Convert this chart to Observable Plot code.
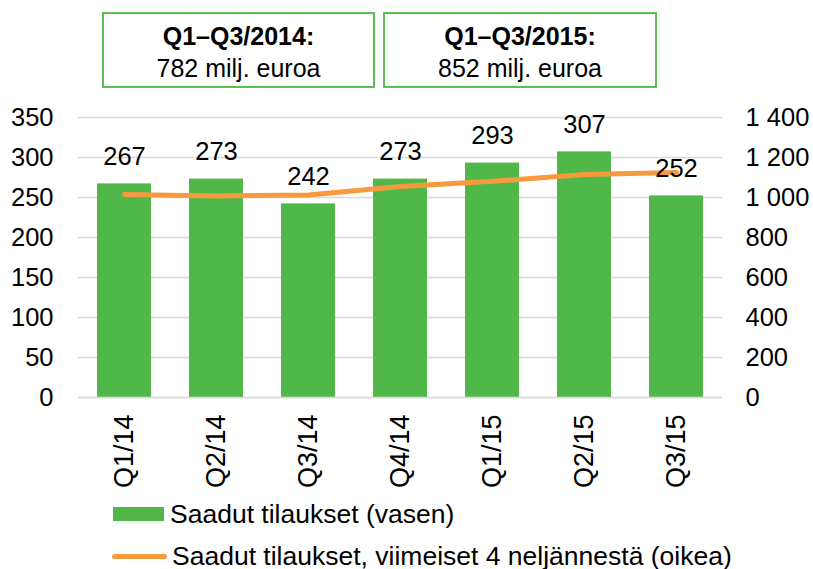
<!DOCTYPE html>
<html>
<head>
<meta charset="utf-8">
<script src="https://cdn.jsdelivr.net/npm/d3@7"></script>
<script src="https://cdn.jsdelivr.net/npm/@observablehq/plot@0.6"></script>
<style>
  body { margin: 0; background: #fff; }
  #wrap { position: relative; width: 813px; height: 569px; font-family: "Liberation Sans", Arial, sans-serif; color: #000; }
  .box { position: absolute; top: 12px; height: 72px; border: 2px solid #5bbf52; box-sizing: content-box; text-align: center; font-size: 25px; line-height: 32px; }
  .box .t { font-weight: bold; margin-top: 6px; }
  .leg { position: absolute; font-size: 26.5px; display: flex; align-items: center; white-space: nowrap; height: 30px; }
  .sw { width: 51px; height: 14px; background: #50b848; margin-right: 6px; }
  .ln { width: 55px; height: 5px; background: #f79a3e; border-radius: 3px; margin-right: 5px; }
</style>
</head>
<body>
<div id="wrap"></div>
<script>
const quarters = ["Q1/14", "Q2/14", "Q3/14", "Q4/14", "Q1/15", "Q2/15", "Q3/15"];
const orders = [267, 273, 242, 273, 293, 307, 252];
const rolling4 = [1015, 1008, 1012, 1055, 1081, 1115, 1125];
const leftTicks = [0, 50, 100, 150, 200, 250, 300, 350];
const rightTickLabels = ["0", "200", "400", "600", "800", "1 000", "1 200", "1 400"];
const boxTitles = ["Q1–Q3/2014:", "Q1–Q3/2015:"];
const boxValues = ["782 milj. euroa", "852 milj. euroa"];
const legendLabels = ["Saadut tilaukset (vasen)", "Saadut tilaukset, viimeiset 4 neljännestä (oikea)"];

const data = quarters.map((q, i) => ({q, v: orders[i], r: rolling4[i]}));
const green = "#50b848", orange = "#f79a3e";

const chart = Plot.plot({
  width: 813,
  height: 569,
  marginTop: 117,
  marginBottom: 172,
  marginLeft: 78,
  marginRight: 91,
  style: {fontFamily: "Liberation Sans, Arial, sans-serif", fontSize: "25px", color: "#000", background: "transparent"},
  x: {domain: quarters, paddingInner: 0.413, paddingOuter: 0.2065, label: null},
  y: {domain: [0, 350], label: null},
  marks: [
    Plot.gridY(leftTicks, {stroke: "#d9d9d9", strokeOpacity: 1, strokeWidth: 1.5}),
    Plot.barY(data, {x: "q", y: "v", fill: green}),
    Plot.ruleY([0], {stroke: "#d9d9d9", strokeWidth: 1.5}),
    Plot.line(data, {x: "q", y: d => d.r / 4, stroke: orange, strokeWidth: 5, strokeLinecap: "round"}),
    Plot.text(data, {x: "q", y: "v", text: d => String(d.v), dy: -27, fontSize: 25.5, fill: "#000", lineAnchor: "middle"}),
    Plot.axisY(leftTicks, {anchor: "left", tickSize: 0, tickPadding: 25, label: null, fontSize: 25.5}),
    Plot.axisY(leftTicks, {anchor: "right", tickSize: 0, tickPadding: 23, label: null, fontSize: 25.5, textAnchor: "start",
      tickFormat: (d, i) => rightTickLabels[i]}),
    Plot.axisX({tickSize: 0, tickPadding: 17, tickRotate: -90, label: null, fontSize: 27})
  ]
});
chart.style.position = "absolute";
chart.style.left = "0px";
chart.style.top = "0px";
const wrap = document.getElementById("wrap");
wrap.appendChild(chart);

const boxPos = [[102, 269], [383, 270]];
boxTitles.forEach((t, i) => {
  const b = document.createElement("div");
  b.className = "box";
  b.style.left = boxPos[i][0] + "px";
  b.style.width = boxPos[i][1] + "px";
  b.innerHTML = `<div class="t">${t}</div><div>${boxValues[i]}</div>`;
  wrap.appendChild(b);
});

const l1 = document.createElement("div");
l1.className = "leg"; l1.style.top = "499px"; l1.style.left = "113px";
l1.innerHTML = `<div class="sw"></div><span>${legendLabels[0]}</span>`;
wrap.appendChild(l1);
const l2 = document.createElement("div");
l2.className = "leg"; l2.style.top = "541px"; l2.style.left = "112px";
l2.innerHTML = `<div class="ln"></div><span>${legendLabels[1]}</span>`;
wrap.appendChild(l2);
</script>
</body>
</html>
